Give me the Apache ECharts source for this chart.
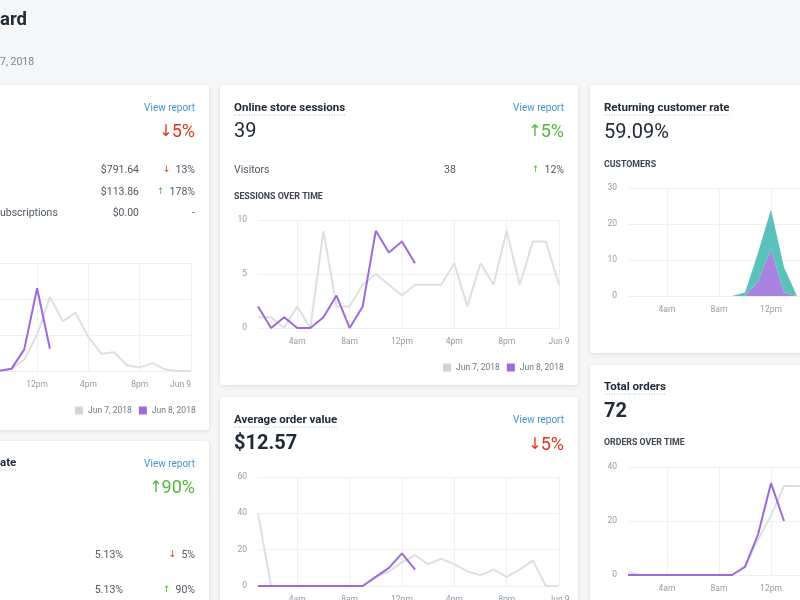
<!DOCTYPE html>
<html><head><meta charset="utf-8">
<script src="https://cdn.jsdelivr.net/npm/echarts@6/dist/echarts.min.js"></script>
<style>html,body{margin:0;padding:0;background:#f4f6f8}#c{width:800px;height:600px}</style>
</head><body><div id="c"></div>
<script>
// ---------- data ----------
const hours = ['1am','2am','3am','4am','5am','6am','7am','8am','9am','10am','11am','12pm','1pm','2pm','3pm','4pm','5pm','6pm','7pm','8pm','9pm','10pm','11pm','Jun 9'];
const tickLabels = ['4am','8am','12pm','4pm','8pm','Jun 9'];
const seriesNames = ['Jun 7, 2018','Jun 8, 2018'];
const customerNames = ['Returning customers','First-time customers'];
const salesJun7 = [40,0,0,0,0,0,0,0,0,15,80,250,515,345,405,235,120,130,40,25,55,10,0,0];
const salesJun8 = [0,0,0,0,0,0,0,0,0,15,150,575,155];
const sessionsJun7 = [1,1,0,2,0,9,2,2,4,5,4,3,4,4,4,6,2,6,4,9,4,8,8,4];
const sessionsJun8 = [2,0,1,0,0,1,3,0,2,9,7,8,6];
const aovJun7 = [40,0,0,0,0,0,0,0,0,5,8,13,17,12,15,12,8,6,9,5,9,14,0,0];
const aovJun8 = [0,0,0,0,0,0,0,0,0,5,10,18,9];
const returningCustomers = [0,0,0,0,0,0,0,0,0,0,4,13,1,0];
const newCustomers = [0,0,0,0,0,0,0,0,0,1,8,11,7,0];
const ordersJun7 = [1,0,0,0,0,0,0,0,0,3,13,22,33,33,33];
const ordersJun8 = [0,0,0,0,0,0,0,0,0,3,15,34,20];

// ---------- styles ----------
const FF = 'Roboto, "Noto Sans", "DejaVu Sans", sans-serif';
const GRAY = '#dcdfe3', PURPLE = '#9c6ade', TEAL = '#5bc2bb', PURPLE_AREA = '#a884e0';
const AXIS_TXT = '#959ca4', SPLIT = '#eef0f2';
const DARK = '#212b36', BODY = '#4f5964', LINK = '#4592d1', RED = '#de3618', GREEN = '#50b83c';

const showTick = (i, v) => tickLabels.includes(v);
function xAx(gi, extra) {
  return Object.assign({
    type: 'category', gridIndex: gi, data: hours, boundaryGap: false,
    axisLine: {show: false}, axisTick: {show: false},
    axisLabel: {interval: showTick, color: AXIS_TXT, fontSize: 8.5, margin: 9, fontFamily: FF},
    splitLine: {show: true, interval: showTick, lineStyle: {color: SPLIT, width: 1}}
  }, extra || {});
}
function yAx(gi, max, interval) {
  return {
    type: 'value', gridIndex: gi, min: 0, max: max, interval: interval,
    axisLine: {show: false}, axisTick: {show: false},
    axisLabel: {color: AXIS_TXT, fontSize: 8.5, margin: 11, fontFamily: FF},
    splitLine: {lineStyle: {color: SPLIT, width: 1}}
  };
}
function line(gi, name, data, color, z) {
  return {type: 'line', xAxisIndex: gi, yAxisIndex: gi, name: name, data: data,
    symbol: 'none', silent: true, z: z, lineStyle: {width: 2, color: color}, itemStyle: {color: color}};
}
function area(gi, name, data, color) {
  return {type: 'line', xAxisIndex: gi, yAxisIndex: gi, name: name, data: data, stack: 'cust',
    symbol: 'none', silent: true, lineStyle: {width: 0}, itemStyle: {color: color},
    areaStyle: {color: color, opacity: 1}};
}
function grid(left, top, width, height) {
  return {left: left, top: top, width: width, height: height, containLabel: false, outerBoundsMode: 'none'};
}

// ---------- graphic helpers ----------
const mctx = document.createElement('canvas').getContext('2d');
function tw(text, size, weight) { mctx.font = (weight || 'normal') + ' ' + size + 'px ' + FF; return mctx.measureText(text).width; }
function T(x, y, text, o) {
  return {type: 'text', x: x, y: y, z: 100, silent: true,
    style: Object.assign({text: text, fill: BODY, fontSize: 10.5, fontFamily: FF, textAlign: 'left', textVerticalAlign: 'middle'}, o || {})};
}
function card(x, y, w, h) {
  return {type: 'rect', z: -10, silent: true, shape: {x: x, y: y, width: w, height: h, r: 3},
    style: {fill: '#ffffff', shadowBlur: 4, shadowOffsetY: 1, shadowColor: 'rgba(63,63,68,0.15)'}};
}
function title(x, y, text) {
  const w = tw(text, 11.5, 'bold');
  return [T(x, y, text, {fill: DARK, fontSize: 11.5, fontWeight: 'bold'}),
    {type: 'line', z: 100, silent: true, shape: {x1: x, y1: y + 7, x2: x + w, y2: y + 7},
      style: {stroke: '#b8c0c8', lineWidth: 1, lineDash: [1, 1.5]}}];
}
function arrowVal(xr, y, arrow, val, up) {
  const w = tw(val, 10.5);
  return [T(xr, y, val, {textAlign: 'right'}),
    T(xr - w - 5, y, arrow, {textAlign: 'right', fill: up ? GREEN : RED, fontSize: 9})];
}
function bigChange(xr, y, arrow, val, up) {
  const w = tw(val, 18);
  const c = up ? GREEN : RED;
  return [T(xr, y, val, {textAlign: 'right', fill: c, fontSize: 18}),
    T(xr - w + 1, y, arrow, {textAlign: 'right', fill: c, fontSize: 16})];
}

const elements = [
  card(-10, 85, 219, 345), card(-10, 441, 219, 200),
  card(220, 85, 358, 300), card(220, 397, 358, 220),
  card(590, 85, 230, 268), card(590, 365, 230, 260),
  // header
  T(0, 20, 'ard', {fill: DARK, fontSize: 18.5, fontWeight: 'bold'}),
  T(0, 62, '7, 2018', {fill: '#7a848e', fontSize: 10.5}),
  // left card 1
  T(195, 108, 'View report', {textAlign: 'right', fill: LINK, fontSize: 10}),
  ...bigChange(195, 132, '↓', '5%', false),
  T(139, 170, '$791.64', {textAlign: 'right'}),
  ...arrowVal(195, 170, '↓', '13%', false),
  T(139, 192, '$113.86', {textAlign: 'right'}),
  ...arrowVal(195, 192, '↑', '178%', true),
  T(0, 213, 'ubscriptions'),
  T(139, 213, '$0.00', {textAlign: 'right'}),
  T(195, 213, '-', {textAlign: 'right'}),
  // left card 2
  ...title(0, 463, 'ate'),
  T(195, 464, 'View report', {textAlign: 'right', fill: LINK, fontSize: 10}),
  ...bigChange(195, 488, '↑', '90%', true),
  T(123, 555, '5.13%', {textAlign: 'right'}),
  ...arrowVal(195, 555, '↓', '5%', false),
  T(123, 590, '5.13%', {textAlign: 'right'}),
  ...arrowVal(195, 590, '↑', '90%', true),
  // middle card 1
  ...title(234, 108, 'Online store sessions'),
  T(564, 108, 'View report', {textAlign: 'right', fill: LINK, fontSize: 10}),
  T(234, 132, '39', {fill: DARK, fontSize: 20}),
  ...bigChange(564, 132, '↑', '5%', true),
  T(234, 170, 'Visitors'),
  T(444, 170, '38'),
  ...arrowVal(564, 170, '↑', '12%', true),
  T(234, 197, 'SESSIONS OVER TIME', {fill: '#3d4650', fontSize: 8.8, fontWeight: 'bold'}),
  // middle card 2
  ...title(234, 420, 'Average order value'),
  T(564, 420, 'View report', {textAlign: 'right', fill: LINK, fontSize: 10}),
  T(234, 444, '$12.57', {fill: DARK, fontSize: 20, fontWeight: 'bold'}),
  ...bigChange(564, 445, '↓', '5%', false),
  // right card 1
  ...title(604, 108, 'Returning customer rate'),
  T(604, 133, '59.09%', {fill: DARK, fontSize: 20}),
  T(604, 165, 'CUSTOMERS', {fill: '#3d4650', fontSize: 8.8, fontWeight: 'bold'}),
  // right card 2
  ...title(604, 387, 'Total orders'),
  T(604, 412, '72', {fill: DARK, fontSize: 20, fontWeight: 'bold'}),
  T(604, 443, 'ORDERS OVER TIME', {fill: '#3d4650', fontSize: 8.8, fontWeight: 'bold'})
];

const legendBase = {itemWidth: 8, itemHeight: 8, itemGap: 7, icon: 'rect', padding: 0, selectedMode: false,
  textStyle: {fontSize: 8.5, color: '#6f7a85', fontFamily: FF},
  data: [{name: seriesNames[0], itemStyle: {color: '#cfd4d9'}}, {name: seriesNames[1], itemStyle: {color: PURPLE}}]};

const chart = echarts.init(document.getElementById('c'), null, {renderer: 'canvas'});
chart.setOption({
  animation: false,
  backgroundColor: '#f4f6f8',
  textStyle: {fontFamily: FF},
  legend: [
    Object.assign({left: 75, top: 406}, legendBase),
    Object.assign({left: 443, top: 363}, legendBase)
  ],
  grid: [
    grid(-104, 263, 295, 108),
    grid(258, 220, 301, 108),
    grid(258, 477, 301, 109),
    grid(628, 188, 299, 108),
    grid(628, 467, 299, 108)
  ],
  xAxis: [xAx(0, {axisLabel: {interval: showTick, color: AXIS_TXT, fontSize: 8.5, margin: 9, fontFamily: FF, alignMaxLabel: 'right'}}), xAx(1), xAx(2), xAx(3), xAx(4)],
  yAxis: [yAx(0, 750, 250), yAx(1, 10, 5), yAx(2, 60, 20), yAx(3, 30, 10), yAx(4, 40, 20)],
  series: [
    line(0, seriesNames[0], salesJun7, GRAY, 2),
    line(0, seriesNames[1], salesJun8, PURPLE, 3),
    line(1, seriesNames[0], sessionsJun7, GRAY, 2),
    line(1, seriesNames[1], sessionsJun8, PURPLE, 3),
    line(2, seriesNames[0], aovJun7, GRAY, 2),
    line(2, seriesNames[1], aovJun8, PURPLE, 3),
    area(3, customerNames[0], returningCustomers, PURPLE_AREA),
    area(3, customerNames[1], newCustomers, TEAL),
    line(4, seriesNames[0], ordersJun7, GRAY, 2),
    line(4, seriesNames[1], ordersJun8, PURPLE, 3)
  ],
  graphic: {elements: elements}
});
</script>
</body></html>
